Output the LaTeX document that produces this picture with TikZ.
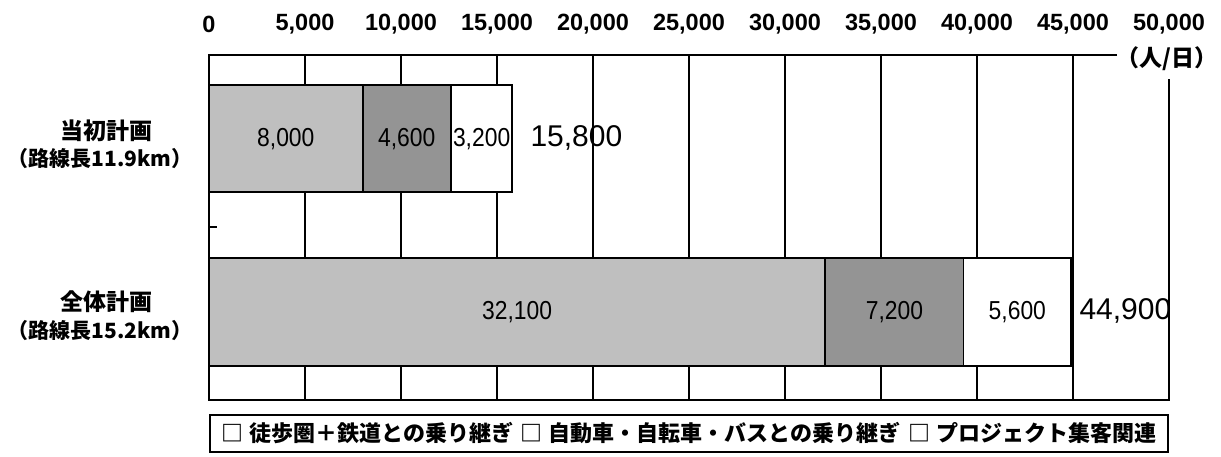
\documentclass[tikz,border=0pt]{standalone}
\usepackage{fontspec}
\setmainfont{Liberation Sans}
\newfontfamily\jpfont{Noto Sans CJK JP}
\newfontfamily\numfont[FakeStretch=0.88]{Liberation Sans}

\begin{document}
\begin{tikzpicture}[x=1pt,y=-1pt,
  grid/.style={line width=1.2pt},
  frame/.style={line width=1.8pt},
  seg/.style={draw, line width=1.8pt},
  walk/.style={seg, fill=black!25},
  car/.style={seg, fill=black!42},
  proj/.style={seg, fill=white},
  axlabel/.style={font=\bfseries\fontsize{23.5}{23.5}\selectfont},
  barlabel/.style={font=\numfont\fontsize{26}{26}\selectfont},
  total/.style={font=\fontsize{30}{30}\selectfont, anchor=west},
  catlabel/.style={font=\jpfont\bfseries\fontsize{23}{23}\selectfont},
  lenlabel/.style={font=\jpfont\bfseries\fontsize{21}{21}\selectfont}]

\useasboundingbox (0,0) rectangle (1221,456);

% Axis

\foreach \k in {1,...,9}
  \draw [grid] ({209+96*\k},55) -- ({209+96*\k},400);

\draw [frame] (1117,55) -- (209,55) -- (209,400) -- (1169,400) -- (1169,79);
\draw [grid] (209,227) -- (217,227);

\foreach \k/\t in {0/0, 1/{5,000}, 2/{10,000}, 3/{15,000}, 4/{20,000}, 5/{25,000},
                   6/{30,000}, 7/{35,000}, 8/{40,000}, 9/{45,000}, 10/{50,000}}
  \node [axlabel] (ax\k) at ({209+96*\k},24) {\t};

\node [catlabel] (unit) at (1167,59) {（人/日）};

% Categories
\node [catlabel] (plan1) at (106,131) {当初計画};
\node [lenlabel] (plan1len) at (100,159) {（路線長11.9km）};
\node [catlabel] (plan2) at (106,302) {全体計画};
\node [lenlabel] (plan2len) at (100,331) {（路線長15.2km）};

%Bars
\draw [walk] (209,85) rectangle ({209+19.2*8},192);
\draw [car]  ({209+19.2*8},85) rectangle ({209+19.2*12.6},192);
\draw [proj] ({209+19.2*12.6},85) rectangle ({209+19.2*15.8},192);

\draw [walk] (209,258) rectangle ({209+19.2*32.1},366);
\draw [car]  ({209+19.2*32.1},258) rectangle ({209+19.2*39.3},366);
\draw [proj] ({209+19.2*39.3},258) rectangle ({209+19.2*44.9},366);

\node [barlabel] (walk1) at ({209+19.2*4},139) {8,000};
\node [barlabel] (car1) at ({209+19.2*10.3},139) {4,600};
\node [barlabel] (proj1) at ({209+19.2*14.2},139) {3,200};
\node [total] (sum1) at (527,138) {15,800};

\node [barlabel] (walk2) at ({209+19.2*16.05},312) {32,100};
\node [barlabel] (car2) at ({209+19.2*35.7},312) {7,200};
\node [barlabel] (proj2) at ({209+19.2*42.1},312) {5,600};
\node [total] (sum2) at (1076,311) {44,900};

% Legend
\node [draw, line width=1.4pt, minimum width=958, minimum height=37, inner sep=0pt,
       font=\jpfont\bfseries\fontsize{22}{22}\selectfont] (legend) at (689,433.5)
  {□\hspace{6pt}徒歩圏＋鉄道との乗り継ぎ\hspace{8pt}□\hspace{6pt}自動車・自転車・バスとの乗り継ぎ\hspace{8pt}□\hspace{6pt}プロジェクト集客関連};
\end{tikzpicture}
\end{document}
